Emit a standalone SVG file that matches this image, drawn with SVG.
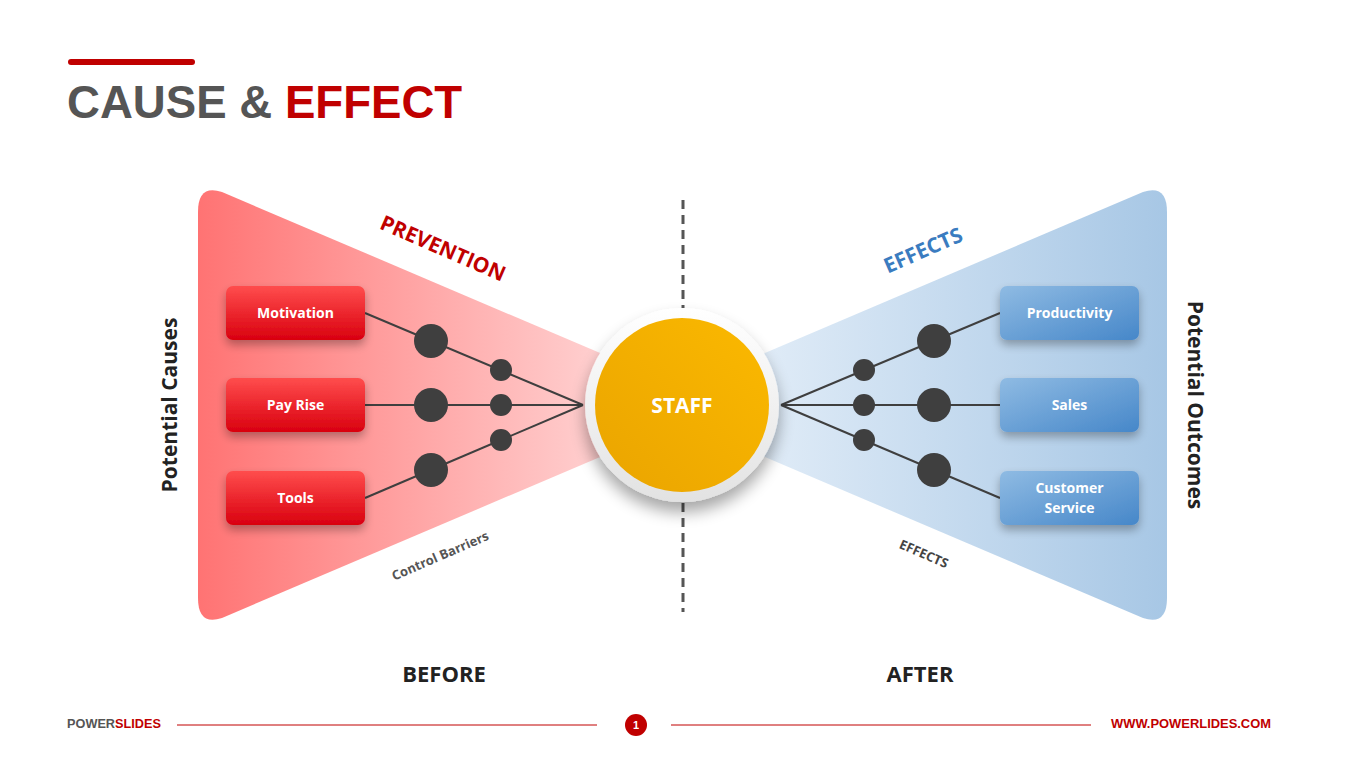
<svg xmlns="http://www.w3.org/2000/svg" width="1365" height="767" viewBox="0 0 1365 767">
<defs>
<linearGradient id="gl" gradientUnits="userSpaceOnUse" x1="198" y1="0" x2="620" y2="0"><stop offset="0" stop-color="#ff7373"/><stop offset="1" stop-color="#ffd4d4"/></linearGradient>
<linearGradient id="gr" gradientUnits="userSpaceOnUse" x1="745" y1="0" x2="1167" y2="0"><stop offset="0" stop-color="#e2edf8"/><stop offset="1" stop-color="#a7c7e5"/></linearGradient>
<linearGradient id="rb" x1="0" y1="0" x2="0" y2="1"><stop offset="0" stop-color="#ff4d4d"/><stop offset="1" stop-color="#d9000f"/></linearGradient>
<linearGradient id="bb" x1="0" y1="0" x2="1" y2="1"><stop offset="0" stop-color="#8fbbe3"/><stop offset="1" stop-color="#4687c9"/></linearGradient>
<linearGradient id="og" x1="1" y1="0" x2="0" y2="1"><stop offset="0" stop-color="#fbb900"/><stop offset="1" stop-color="#eaa400"/></linearGradient>
<linearGradient id="ring" x1="0" y1="0" x2="0" y2="1"><stop offset="0" stop-color="#ffffff"/><stop offset="1" stop-color="#e2e2e2"/></linearGradient>
<filter id="sh" x="-30%" y="-30%" width="160%" height="180%"><feGaussianBlur in="SourceAlpha" stdDeviation="5"/><feOffset dy="5"/><feComponentTransfer><feFuncA type="linear" slope="0.3"/></feComponentTransfer><feMerge><feMergeNode/><feMergeNode in="SourceGraphic"/></feMerge></filter>
<filter id="csh" x="-30%" y="-30%" width="160%" height="170%"><feGaussianBlur in="SourceAlpha" stdDeviation="8"/><feOffset dy="10"/><feComponentTransfer><feFuncA type="linear" slope="0.35"/></feComponentTransfer><feMerge><feMergeNode/><feMergeNode in="SourceGraphic"/></feMerge></filter>
<style>
.bx{font-family:"Open Sans","Liberation Sans",sans-serif;font-weight:bold;font-size:14px;fill:#fff;text-anchor:middle}
.ln{stroke:#3f3f3f;stroke-width:2;fill:none}
.dot{fill:#3f3f3f}
.lab{font-family:"Open Sans","Liberation Sans",sans-serif;font-weight:bold;text-anchor:middle}
</style>
</defs>
<rect width="1365" height="767" fill="#fff"/>
<!-- title -->
<rect x="68" y="59" width="127" height="6" rx="3" fill="#c00000"/>
<text x="67" y="118" font-family="Liberation Sans, Arial, sans-serif" font-weight="bold" font-size="45.6" fill="#555555">CAUSE &amp; <tspan fill="#c00000">EFFECT</tspan></text>
<!-- funnels -->
<path d="M198 212 Q198 184 222 192 L640 370 L640 440 L222 618 Q198 626 198 598 Z" fill="url(#gl)"/>
<path d="M1167 212 Q1167 184 1143 192 L725 370 L725 440 L1143 618 Q1167 626 1167 598 Z" fill="url(#gr)"/>
<!-- dashed divider -->
<line x1="683" y1="200" x2="683" y2="308" stroke="#555" stroke-width="3" stroke-dasharray="9,6"/>
<line x1="683" y1="503" x2="683" y2="612" stroke="#555" stroke-width="3" stroke-dasharray="9,6"/>
<!-- connectors -->
<g id="connectors">
<line class="ln" x1="365" y1="313" x2="583" y2="405"/>
<line class="ln" x1="365" y1="405" x2="583" y2="405"/>
<line class="ln" x1="365" y1="498" x2="583" y2="405"/>
<line class="ln" x1="1000" y1="313" x2="781" y2="405"/>
<line class="ln" x1="1000" y1="405" x2="781" y2="405"/>
<line class="ln" x1="1000" y1="498" x2="781" y2="405"/>
<circle class="dot" cx="431" cy="341" r="17"/><circle class="dot" cx="501" cy="370" r="11"/>
<circle class="dot" cx="431" cy="405" r="17"/><circle class="dot" cx="501" cy="405" r="11"/>
<circle class="dot" cx="431" cy="470" r="17"/><circle class="dot" cx="501" cy="440" r="11"/>
<circle class="dot" cx="934" cy="341" r="17"/><circle class="dot" cx="864" cy="370" r="11"/>
<circle class="dot" cx="934" cy="405" r="17"/><circle class="dot" cx="864" cy="405" r="11"/>
<circle class="dot" cx="934" cy="470" r="17"/><circle class="dot" cx="864" cy="440" r="11"/>
</g>
<!-- left boxes -->
<g id="motivation"><rect x="226" y="286" width="139" height="54" rx="7" fill="url(#rb)" filter="url(#sh)"/><text class="bx" x="295.5" y="318">Motivation</text></g>
<g id="payrise"><rect x="226" y="378" width="139" height="54" rx="7" fill="url(#rb)" filter="url(#sh)"/><text class="bx" x="295.5" y="410">Pay Rise</text></g>
<g id="tools"><rect x="226" y="471" width="139" height="54" rx="7" fill="url(#rb)" filter="url(#sh)"/><text class="bx" x="295.5" y="503">Tools</text></g>
<!-- right boxes -->
<g id="productivity"><rect x="1000" y="286" width="139" height="54" rx="7" fill="url(#bb)" filter="url(#sh)"/><text class="bx" x="1069.5" y="318">Productivity</text></g>
<g id="sales"><rect x="1000" y="378" width="139" height="54" rx="7" fill="url(#bb)" filter="url(#sh)"/><text class="bx" x="1069.5" y="410">Sales</text></g>
<g id="customer"><rect x="1000" y="471" width="139" height="54" rx="7" fill="url(#bb)" filter="url(#sh)"/><text class="bx" x="1069.5" y="493">Customer</text><text class="bx" x="1069.5" y="513">Service</text></g>
<!-- center -->
<g id="staff">
<circle cx="682" cy="405" r="97" fill="url(#ring)" filter="url(#csh)"/>
<circle cx="682" cy="405" r="87" fill="url(#og)"/>
<text class="lab" x="682" y="413" font-size="21" fill="#fff">STAFF</text>
</g>
<!-- labels -->
<text class="lab" transform="translate(440,255) rotate(23.5)" font-size="21" fill="#c00000">PREVENTION</text>
<text class="lab" transform="translate(926,257) rotate(-23.5)" font-size="21" fill="#3a7cc0">EFFECTS</text>
<text class="lab" transform="translate(442,560) rotate(-23.5)" font-size="13" font-weight="600" fill="#555">Control Barriers</text>
<text class="lab" transform="translate(922,558) rotate(23.5)" font-size="13" font-weight="600" fill="#444">EFFECTS</text>
<text class="lab" transform="translate(177,405) rotate(-90)" font-size="21" fill="#222">Potential Causes</text>
<text class="lab" transform="translate(1188,405) rotate(90)" font-size="21" fill="#222">Potential Outcomes</text>
<text class="lab" x="444" y="682" font-size="22" fill="#222">BEFORE</text>
<text class="lab" x="920" y="682" font-size="22" fill="#222">AFTER</text>
<!-- footer -->
<text x="67" y="728" font-family="Liberation Sans Narrow, Liberation Sans, sans-serif" font-size="12" font-weight="bold" fill="#555" textLength="94" lengthAdjust="spacingAndGlyphs">POWER<tspan fill="#c00000">SLIDES</tspan></text>
<line x1="177" y1="725" x2="597" y2="725" stroke="#c00000" stroke-width="1"/>
<line x1="671" y1="725" x2="1091" y2="725" stroke="#c00000" stroke-width="1"/>
<circle cx="636" cy="725" r="11" fill="#c00000"/>
<text x="636" y="729" font-family="Liberation Sans, sans-serif" font-size="11" font-weight="bold" fill="#fff" text-anchor="middle">1</text>
<text x="1271" y="728" font-family="Liberation Sans, sans-serif" font-size="12" font-weight="bold" fill="#c00000" text-anchor="end" textLength="160" lengthAdjust="spacingAndGlyphs">WWW.POWERLIDES.COM</text>
</svg>
